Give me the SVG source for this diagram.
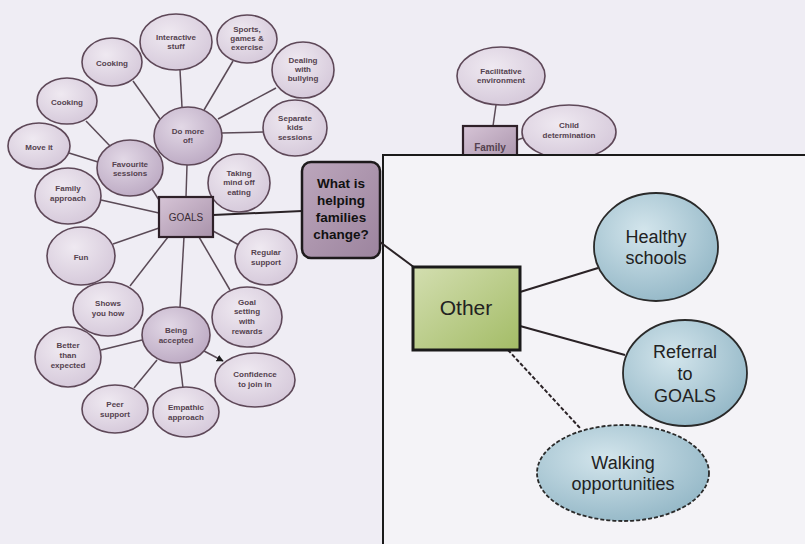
<svg xmlns="http://www.w3.org/2000/svg" width="805" height="544" viewBox="0 0 805 544">
<defs>
<radialGradient id="gLav" cx="0.4" cy="0.35" r="0.75">
<stop offset="0" stop-color="#efe9f1"/>
<stop offset="1" stop-color="#d3c6d8"/>
</radialGradient>
<radialGradient id="gLavD" cx="0.4" cy="0.35" r="0.75">
<stop offset="0" stop-color="#e2d8e6"/>
<stop offset="1" stop-color="#b9a6c0"/>
</radialGradient>
<linearGradient id="gBox" x1="0" y1="0" x2="1" y2="1">
<stop offset="0" stop-color="#d6c4d6"/>
<stop offset="1" stop-color="#a993ab"/>
</linearGradient>
<linearGradient id="gQ" x1="0" y1="0" x2="1" y2="1">
<stop offset="0" stop-color="#bca6bc"/>
<stop offset="1" stop-color="#9c849e"/>
</linearGradient>
<linearGradient id="gGreen" x1="0" y1="0" x2="1" y2="1">
<stop offset="0" stop-color="#d3deb0"/>
<stop offset="1" stop-color="#a3bc66"/>
</linearGradient>
<radialGradient id="gBlue" cx="0.4" cy="0.35" r="0.75">
<stop offset="0" stop-color="#d3e5ec"/>
<stop offset="1" stop-color="#8fb4c4"/>
</radialGradient>
<marker id="arr" viewBox="0 0 10 10" refX="9" refY="5" markerWidth="7" markerHeight="7" orient="auto" markerUnits="userSpaceOnUse">
<path d="M0,0 L10,5 L0,10 z" fill="#1a1a1a"/>
</marker>
</defs>
<style>
.e{fill:url(#gLav);stroke:#5e4858;stroke-width:1.6}
.ed{fill:url(#gLavD);stroke:#5e4858;stroke-width:1.6}
.t{font-family:"Liberation Sans",Arial,sans-serif;font-size:8px;font-weight:bold;fill:#54424f;text-anchor:middle}
.c{stroke:#5a4a56;stroke-width:1.5;fill:none}
.cp{stroke:#2a2226;stroke-width:2;fill:none}
.b{fill:url(#gBlue);stroke:#2a2a2a;stroke-width:1.8}
.tb{font-family:"Liberation Sans",Arial,sans-serif;font-size:18px;fill:#222;text-anchor:middle}
</style>
<rect x="0" y="0" width="805" height="544" fill="#efedf4"/>

<g id="connectors">
<line class="c" x1="186" y1="197" x2="187" y2="165"/>
<line class="c" x1="182" y1="107" x2="180" y2="70"/>
<line class="c" x1="204" y1="110" x2="233" y2="61"/>
<line class="c" x1="218" y1="119" x2="276" y2="88"/>
<line class="c" x1="222" y1="133" x2="263" y2="132"/>
<line class="c" x1="160" y1="119" x2="133" y2="81"/>
<line class="c" x1="159" y1="200" x2="152" y2="189"/>
<line class="c" x1="110" y1="146" x2="86" y2="121"/>
<line class="c" x1="98" y1="162" x2="69" y2="153"/>
<line class="c" x1="159" y1="213" x2="101" y2="200"/>
<line class="c" x1="159" y1="228" x2="113" y2="244"/>
<line class="c" x1="168" y1="237" x2="130" y2="286"/>
<line class="c" x1="184" y1="237" x2="180" y2="307"/>
<line class="c" x1="213" y1="231" x2="239" y2="245"/>
<line class="c" x1="199" y1="237" x2="230" y2="290"/>
<line class="cp" x1="213" y1="215" x2="302" y2="211"/>
<line class="c" x1="142" y1="340" x2="101" y2="350"/>
<line class="c" x1="157" y1="360" x2="134" y2="388"/>
<line class="c" x1="180" y1="363" x2="183" y2="388"/>
<line class="c" x1="204" y1="351" x2="223" y2="361" stroke="#2a2226" marker-end="url(#arr)"/>
<line class="c" x1="496" y1="105" x2="493" y2="126"/>
<line class="c" x1="517" y1="140" x2="523" y2="138"/>
</g>

<g id="n-interactive"><ellipse class="e" cx="176" cy="42" rx="36" ry="28"/><text class="t" x="176" y="40">Interactive</text><text class="t" x="176" y="49">stuff</text></g>
<g id="n-sports"><ellipse class="e" cx="247" cy="39" rx="30" ry="24"/><text class="t" x="247" y="32">Sports,</text><text class="t" x="247" y="41">games &amp;</text><text class="t" x="247" y="50">exercise</text></g>
<g id="n-dealing"><ellipse class="e" cx="303" cy="70" rx="31" ry="28"/><text class="t" x="303" y="63">Dealing</text><text class="t" x="303" y="72">with</text><text class="t" x="303" y="81">bullying</text></g>
<g id="n-separate"><ellipse class="e" cx="295" cy="128" rx="32" ry="28"/><text class="t" x="295" y="121">Separate</text><text class="t" x="295" y="130">kids</text><text class="t" x="295" y="140">sessions</text></g>
<g id="n-domore"><ellipse class="ed" cx="188" cy="136" rx="34" ry="29"/><text class="t" x="188" y="134">Do more</text><text class="t" x="188" y="143">of!</text></g>
<g id="n-cooking1"><ellipse class="e" cx="112" cy="62" rx="30" ry="24"/><text class="t" x="112" y="66">Cooking</text></g>
<g id="n-cooking2"><ellipse class="e" cx="67" cy="101" rx="30" ry="23"/><text class="t" x="67" y="105">Cooking</text></g>
<g id="n-moveit"><ellipse class="e" cx="39" cy="146" rx="31" ry="23"/><text class="t" x="39" y="150">Move it</text></g>
<g id="n-favourite"><ellipse class="ed" cx="130" cy="168" rx="33" ry="28"/><text class="t" x="130" y="167">Favourite</text><text class="t" x="130" y="176">sessions</text></g>
<g id="n-family-approach"><ellipse class="e" cx="68" cy="196" rx="33" ry="28"/><text class="t" x="68" y="191">Family</text><text class="t" x="68" y="201">approach</text></g>
<g id="n-fun"><ellipse class="e" cx="81" cy="256" rx="34" ry="29"/><text class="t" x="81" y="260">Fun</text></g>
<g id="n-shows"><ellipse class="e" cx="108" cy="309" rx="35" ry="27"/><text class="t" x="108" y="306">Shows</text><text class="t" x="108" y="316">you how</text></g>
<g id="n-taking"><ellipse class="e" cx="239" cy="183" rx="31" ry="29"/><text class="t" x="239" y="176">Taking</text><text class="t" x="239" y="185">mind off</text><text class="t" x="239" y="195">eating</text></g>
<g id="n-goals"><rect x="159" y="197" width="54" height="40" fill="url(#gBox)" stroke="#2e2028" stroke-width="2.2"/><text class="t" x="186" y="221" style="font-size:10px;font-weight:normal;fill:#3a2c36">GOALS</text></g>
<g id="n-question"><rect x="302" y="162" width="78" height="96" rx="9" fill="url(#gQ)" stroke="#1e1a1c" stroke-width="2.5"/><text x="341" y="188" style="font-family:'Liberation Sans',Arial,sans-serif;font-size:13.5px;font-weight:bold;fill:#111;text-anchor:middle"><tspan x="341" y="188">What is</tspan><tspan x="341" y="205">helping</tspan><tspan x="341" y="222">families</tspan><tspan x="341" y="239">change?</tspan></text></g>
<g id="n-regular"><ellipse class="e" cx="266" cy="257" rx="31" ry="28"/><text class="t" x="266" y="255">Regular</text><text class="t" x="266" y="265">support</text></g>
<g id="n-goalsetting"><ellipse class="e" cx="247" cy="317" rx="35" ry="30"/><text class="t" x="247" y="305">Goal</text><text class="t" x="247" y="314">setting</text><text class="t" x="247" y="324">with</text><text class="t" x="247" y="334">rewards</text></g>
<g id="n-accepted"><ellipse class="ed" cx="176" cy="335" rx="34" ry="28"/><text class="t" x="176" y="333">Being</text><text class="t" x="176" y="343">accepted</text></g>
<g id="n-better"><ellipse class="e" cx="68" cy="357" rx="33" ry="30"/><text class="t" x="68" y="348">Better</text><text class="t" x="68" y="358">than</text><text class="t" x="68" y="368">expected</text></g>
<g id="n-confidence"><ellipse class="e" cx="255" cy="380" rx="40" ry="27"/><text class="t" x="255" y="377">Confidence</text><text class="t" x="255" y="387">to join in</text></g>
<g id="n-peer"><ellipse class="e" cx="115" cy="409" rx="33" ry="24"/><text class="t" x="115" y="407">Peer</text><text class="t" x="115" y="417">support</text></g>
<g id="n-empathic"><ellipse class="e" cx="186" cy="412" rx="33" ry="25"/><text class="t" x="186" y="410">Empathic</text><text class="t" x="186" y="420">approach</text></g>

<g id="n-facilitative"><ellipse class="e" cx="501" cy="76" rx="44" ry="29"/><text class="t" x="501" y="74">Facilitative</text><text class="t" x="501" y="83">environment</text></g>
<g id="n-family"><rect x="463" y="126" width="54" height="36" fill="url(#gBox)" stroke="#2e2028" stroke-width="2.2"/><text class="t" x="490" y="151" style="font-size:10px">Family</text></g>
<g id="n-child"><ellipse class="e" cx="569" cy="132" rx="47" ry="27"/><text class="t" x="569" y="128">Child</text><text class="t" x="569" y="138">determination</text></g>

<g id="panel">
<rect x="383" y="155" width="440" height="400" fill="#f4f3f7" stroke="#1a1a1a" stroke-width="2"/>
</g>

<g id="connectors-panel">
<line class="cp" x1="380" y1="242" x2="415" y2="268"/>
<line class="cp" x1="520" y1="292" x2="598" y2="268"/>
<line class="cp" x1="520" y1="326" x2="625" y2="355"/>
<line class="cp" x1="508" y1="350" x2="580" y2="428" stroke-dasharray="4 2" stroke="#4a3f3f"/>
</g>

<g id="n-other"><rect x="413" y="267" width="107" height="83" fill="url(#gGreen)" stroke="#1a1a1a" stroke-width="3"/><text x="466" y="315" style="font-family:'Liberation Sans',Arial,sans-serif;font-size:21px;fill:#222;text-anchor:middle">Other</text></g>
<g id="n-healthy"><ellipse class="b" cx="656" cy="247" rx="62" ry="54"/><text class="tb" x="656" y="243">Healthy</text><text class="tb" x="656" y="264">schools</text></g>
<g id="n-referral"><ellipse class="b" cx="685" cy="373" rx="62" ry="53"/><text class="tb" x="685" y="358">Referral</text><text class="tb" x="685" y="380">to</text><text class="tb" x="685" y="402">GOALS</text></g>
<g id="n-walking"><ellipse class="b" cx="623" cy="473" rx="86" ry="48" stroke-dasharray="4 2"/><text class="tb" x="623" y="469">Walking</text><text class="tb" x="623" y="490">opportunities</text></g>
</svg>
